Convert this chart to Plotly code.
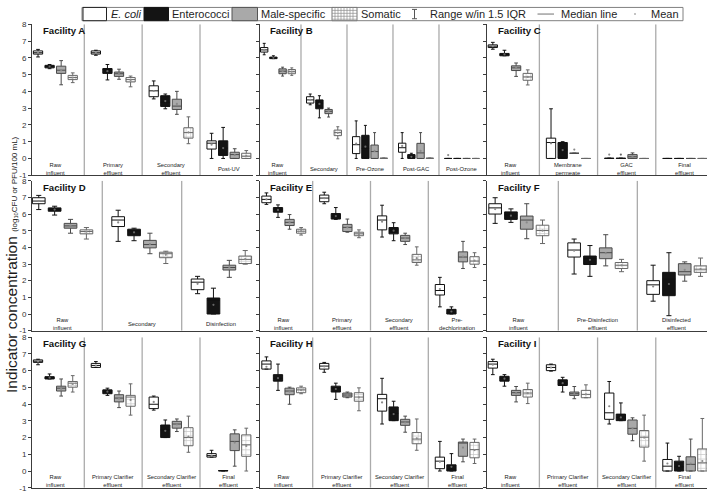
import plotly.graph_objects as go

W, H = 709, 496
FONT = "Liberation Sans, Arial, sans-serif"

# ---------------- data: each box = [lower whisker, Q1, median, Q3, upper whisker, mean] ----------------
A_stages = ["Raw<br>influent", "Primary<br>effluent", "Secondary<br>effluent", "Post-UV"]
A_ecoli = [[6.05, 6.22, 6.30, 6.41, 6.50, 6.31], [6.15, 6.22, 6.30, 6.41, 6.45, 6.30], [3.55, 3.68, 4.03, 4.33, 4.62, 4.02], [0.0, 0.56, 0.91, 1.05, 1.50, 0.82]]
A_entero = [[5.35, 5.40, 5.48, 5.55, 5.60, 5.48], [4.68, 5.07, 5.32, 5.36, 5.60, 5.20], [2.96, 3.10, 3.35, 3.74, 3.84, 3.42], [0.0, 0.18, 0.62, 1.05, 1.85, 0.62]]
A_male = [[4.39, 5.07, 5.26, 5.50, 5.83, 5.25], [4.72, 4.89, 5.05, 5.15, 5.32, 5.03], [2.63, 2.92, 3.12, 3.53, 4.00, 3.25], [0.0, 0.0, 0.23, 0.37, 0.58, 0.20]]
A_somatic = [[4.52, 4.70, 4.82, 4.95, 5.10, 4.82], [4.27, 4.56, 4.70, 4.82, 4.91, 4.68], [0.88, 1.21, 1.54, 1.83, 2.48, 1.55], [0.0, 0.0, 0.13, 0.31, 0.47, 0.15]]

B_stages = ["Raw<br>influent", "Secondary", "Pre-Ozone", "Post-GAC", "Post-Ozone"]
B_ecoli = [[6.18, 6.34, 6.47, 6.61, 6.86, 6.47], [3.20, 3.30, 3.49, 3.68, 3.84, 3.50], [0.0, 0.29, 0.82, 1.30, 2.24, 0.88], [0.0, 0.37, 0.64, 0.91, 1.54, 0.75], [0.0, 0.0, 0.0, 0.0, 0.0, 0.20]]
B_entero = [[5.95, 5.95, 6.00, 6.04, 6.12, 6.00], [2.42, 2.96, 3.30, 3.49, 3.74, 3.25], [0.0, 0.0, 0.60, 1.38, 1.97, 0.70], [0.0, 0.0, 0.08, 0.23, 0.31, 0.10], [0.0, 0.0, 0.0, 0.0, 0.0, None]]
B_male = [[4.91, 5.05, 5.20, 5.34, 5.44, 5.20], [2.47, 2.67, 2.81, 2.92, 3.00, 2.80], [0.0, 0.0, 0.41, 0.80, 1.54, 0.45], [0.0, 0.0, 0.33, 0.90, 1.54, 0.45], [0.0, 0.0, 0.0, 0.0, 0.0, None]]
B_somatic = [[4.95, 5.05, 5.19, 5.30, 5.40, 5.18], [1.17, 1.36, 1.54, 1.69, 1.89, 1.53], [0.0, 0.0, 0.0, 0.03, 0.03, None], [0.0, 0.0, 0.0, 0.03, 0.03, None], [0.0, 0.0, 0.0, 0.0, 0.0, None]]

C_stages = ["Raw<br>influent", "Membrane<br>permeate", "GAC<br>effluent", "Final<br>effluent"]
C_ecoli = [[6.51, 6.61, 6.69, 6.77, 6.92, 6.70], [0.0, 0.0, 0.95, 1.21, 2.96, 0.90], [0.0, 0.0, 0.0, 0.02, 0.02, 0.23], [0.0, 0.0, 0.0, 0.0, 0.0, None]]
C_entero = [[6.12, 6.12, 6.20, 6.26, 6.45, 6.20], [0.0, 0.0, 0.50, 0.95, 1.00, 0.50], [0.0, 0.0, 0.0, 0.02, 0.02, 0.23], [0.0, 0.0, 0.0, 0.0, 0.0, None]]
C_male = [[4.89, 5.24, 5.40, 5.52, 5.69, 5.40], [0.31, 0.31, 0.31, 0.31, 0.31, 0.53], [0.0, 0.0, 0.10, 0.23, 0.33, 0.12], [0.0, 0.0, 0.0, 0.0, 0.0, None]]
C_somatic = [[4.38, 4.66, 4.86, 5.07, 5.28, 4.86], [0.0, 0.0, 0.0, 0.0, 0.0, None], [0.0, 0.0, 0.0, 0.0, 0.0, None], [0.0, 0.0, 0.0, 0.0, 0.0, None]]

D_stages = ["Raw<br>influent", "Secondary", "Disinfection"]
D_ecoli = [[6.27, 6.62, 6.78, 6.98, 7.12, 6.78], [4.36, 5.25, 5.64, 5.84, 6.23, 5.50], [1.22, 1.46, 1.91, 2.10, 2.26, 1.81]]
D_entero = [[5.94, 6.17, 6.27, 6.37, 6.47, 6.27], [4.40, 4.70, 4.99, 5.09, 5.15, 4.90], [0.0, 0.0, 0.83, 0.96, 1.55, 0.55]]
D_male = [[4.85, 5.15, 5.29, 5.44, 5.68, 5.30], [3.62, 3.97, 4.17, 4.42, 4.85, 4.20], [2.20, 2.64, 2.79, 2.93, 3.22, 2.80]]
D_somatic = [[4.50, 4.81, 4.95, 5.05, 5.19, 4.94], [3.03, 3.38, 3.62, 3.71, 3.77, 3.55], [2.99, 3.03, 3.28, 3.48, 3.81, 3.30]]

E_stages = ["Raw<br>influent", "Primary<br>effluent", "Secondary<br>effluent", "Pre-<br>dechlorination"]
E_ecoli = [[6.58, 6.68, 6.88, 7.08, 7.27, 6.88], [6.62, 6.74, 6.96, 7.14, 7.31, 6.95], [4.62, 5.05, 5.64, 5.89, 6.53, 5.54], [0.43, 1.14, 1.41, 1.77, 2.20, 1.50]]
E_entero = [[5.80, 6.11, 6.27, 6.39, 6.55, 6.25], [5.68, 5.70, 5.87, 6.03, 6.39, 5.88], [4.40, 4.81, 5.05, 5.19, 5.48, 5.00], [0.0, 0.0, 0.05, 0.28, 0.43, 0.15]]
E_male = [[5.09, 5.31, 5.50, 5.68, 5.97, 5.50], [4.91, 4.95, 5.20, 5.38, 5.70, 5.20], [4.17, 4.36, 4.56, 4.72, 4.85, 4.55], [2.73, 3.13, 3.42, 3.73, 4.36, 3.45]]
E_somatic = [[4.74, 4.85, 4.97, 5.09, 5.19, 4.97], [4.58, 4.70, 4.81, 4.91, 5.05, 4.80], [2.93, 3.09, 3.25, 3.58, 4.03, 3.35], [2.79, 2.99, 3.18, 3.44, 3.68, 3.20]]

F_stages = ["Raw<br>influent", "Pre-Disinfection<br>effluent", "Disinfected<br>effluent"]
F_ecoli = [[5.44, 6.00, 6.37, 6.62, 6.98, 6.30], [2.40, 3.42, 3.84, 4.27, 4.50, 3.80], [0.77, 1.18, 1.75, 2.00, 2.93, 1.65]]
F_entero = [[5.50, 5.68, 5.94, 6.13, 6.31, 5.90], [2.26, 2.97, 3.32, 3.48, 4.11, 3.25], [-0.10, 1.10, 2.10, 2.50, 3.68, 1.80]]
F_male = [[4.52, 5.09, 5.64, 5.88, 6.62, 5.50], [2.89, 3.32, 3.68, 3.97, 4.76, 3.65], [1.97, 2.34, 2.54, 3.02, 3.13, 2.65]]
F_somatic = [[4.23, 4.70, 5.01, 5.33, 5.64, 5.00], [2.54, 2.73, 2.93, 3.09, 3.28, 2.92], [2.26, 2.50, 2.69, 2.89, 3.36, 2.70]]

G_stages = ["Raw<br>influent", "Primary Clarifier<br>effluent", "Secondary Clarifier<br>effluent", "Final<br>effluent"]
G_ecoli = [[6.35, 6.49, 6.56, 6.64, 6.68, 6.55], [6.19, 6.19, 6.31, 6.43, 6.54, 6.30], [3.64, 3.73, 3.99, 4.42, 4.48, 4.13], [0.83, 0.83, 0.92, 1.04, 1.24, 0.92]]
G_entero = [[5.50, 5.50, 5.58, 5.64, 5.80, 5.58], [4.52, 4.62, 4.74, 4.85, 4.95, 4.74], [2.00, 2.00, 2.46, 2.75, 3.05, 2.40], [0.0, 0.0, 0.02, 0.03, 0.03, None]]
G_male = [[4.48, 4.78, 4.95, 5.07, 5.50, 4.92], [3.79, 4.13, 4.36, 4.56, 4.78, 4.33], [2.36, 2.56, 2.81, 2.97, 3.11, 2.78], [0.29, 1.22, 1.77, 2.22, 2.46, 1.70]]
G_somatic = [[4.72, 5.01, 5.25, 5.35, 5.70, 5.20], [3.34, 3.87, 4.42, 4.52, 5.21, 4.25], [1.12, 1.51, 2.00, 2.59, 3.28, 2.05], [0.0, 0.88, 1.57, 2.16, 2.56, 1.50]]

H_stages = ["Raw<br>influent", "Primary Clarifier<br>effluent", "Secondary Clarifier<br>effluent", "Final<br>effluent"]
H_ecoli = [[6.09, 6.09, 6.39, 6.58, 6.82, 6.23], [5.90, 6.09, 6.27, 6.43, 6.49, 6.25], [2.81, 3.58, 4.32, 4.58, 5.54, 4.10], [0.0, 0.14, 0.59, 0.83, 1.77, 0.55]]
H_entero = [[4.82, 5.37, 5.54, 5.76, 6.39, 5.55], [4.28, 4.72, 4.95, 5.07, 5.25, 4.90], [3.01, 3.01, 3.44, 3.83, 4.17, 3.40], [0.0, 0.0, 0.10, 0.37, 1.04, 0.25]]
H_male = [[3.99, 4.56, 4.78, 4.95, 5.01, 4.75], [4.38, 4.42, 4.54, 4.66, 4.72, 4.54], [2.32, 2.73, 2.93, 3.09, 3.28, 2.90], [0.55, 0.88, 1.67, 1.73, 1.91, 1.40]]
H_somatic = [[4.62, 4.68, 4.85, 4.97, 5.07, 4.83], [3.60, 4.17, 4.42, 4.68, 4.97, 4.40], [1.24, 1.63, 1.91, 2.30, 3.11, 1.95], [0.45, 0.79, 1.28, 1.71, 1.91, 1.25]]

I_stages = ["Raw<br>influent", "Primary Clarifier<br>effluent", "Secondary Clarifier<br>effluent", "Final<br>effluent"]
I_ecoli = [[5.76, 6.15, 6.39, 6.54, 6.68, 6.35], [5.97, 6.00, 6.19, 6.35, 6.39, 6.18], [2.81, 3.09, 3.48, 4.66, 5.35, 3.87], [0.0, 0.0, 0.29, 0.69, 1.67, 0.45]]
I_entero = [[5.07, 5.37, 5.54, 5.66, 5.76, 5.52], [4.72, 5.11, 5.25, 5.45, 5.60, 5.25], [3.01, 3.01, 3.21, 3.40, 4.07, 3.20], [0.0, 0.0, 0.25, 0.59, 0.88, 0.30]]
I_male = [[4.13, 4.52, 4.68, 4.82, 5.05, 4.66], [4.32, 4.52, 4.62, 4.72, 5.05, 4.60], [1.81, 2.20, 2.55, 3.05, 3.18, 2.55], [0.0, 0.0, 0.40, 0.85, 1.91, 0.45]]
I_somatic = [[4.03, 4.42, 4.66, 4.87, 5.25, 4.65], [4.38, 4.38, 4.58, 4.82, 5.15, 4.58], [0.59, 1.43, 2.02, 2.42, 3.34, 2.00], [0.0, 0.0, 0.49, 1.32, 3.14, 0.60]]

facility_names = ["A", "B", "C", "D", "E", "F", "G", "H", "I"]
indicator_names = ["E. coli", "Enterococci", "Male-specific", "Somatic"]
y_ticks = [-1, 0, 1, 2, 3, 4, 5, 6, 7, 8]

facilities = [
    (A_stages, A_ecoli, A_entero, A_male, A_somatic),
    (B_stages, B_ecoli, B_entero, B_male, B_somatic),
    (C_stages, C_ecoli, C_entero, C_male, C_somatic),
    (D_stages, D_ecoli, D_entero, D_male, D_somatic),
    (E_stages, E_ecoli, E_entero, E_male, E_somatic),
    (F_stages, F_ecoli, F_entero, F_male, F_somatic),
    (G_stages, G_ecoli, G_entero, G_male, G_somatic),
    (H_stages, H_ecoli, H_entero, H_male, H_somatic),
    (I_stages, I_ecoli, I_entero, I_male, I_somatic),
]

# ---------------- layout geometry ----------------
col_px = [(32, 253), (259.5, 483), (487, 707)]
row_px = [(20.6, 174.4), (180.0, 332.7), (339.3, 492.7)]
x_ranges = [[-0.404, 3.416], [-0.402, 4.457], [-0.400, 3.380],
            [-0.385, 2.398], [-0.420, 3.446], [-0.403, 2.382],
            [-0.404, 3.416], [-0.420, 3.446], [-0.400, 3.380]]
offsets = [-0.3, -0.1, 0.1, 0.3]
BOXW = 0.16
styles = [
    dict(fill="white", line="#111111"),
    dict(fill="#141414", line="#111111"),
    dict(fill="#a9a9a9", line="#4a4a4a"),
    dict(fill="rgba(0,0,0,0)", line="#686868"),
]
GRID_C = "#8c8c8c"

fig = go.Figure()
shapes = []
annotations = []
layout_axes = {}

for i, (stages, *series) in enumerate(facilities):
    r, c = divmod(i, 3)
    sfx = "" if i == 0 else str(i + 1)
    xa, ya = "x" + sfx, "y" + sfx
    n = len(stages)
    for j, stats in enumerate(series):
        xs = [k + offsets[j] for k in range(n)]
        lw = [s[0] for s in stats]
        q1 = [s[1] for s in stats]
        md = [s[2] for s in stats]
        q3 = [s[3] for s in stats]
        uw = [s[4] for s in stats]
        mn = [s[5] for s in stats]
        st = styles[j]
        if j == 3:
            fig.add_trace(go.Bar(
                x=xs, y=[b - a for a, b in zip(q1, q3)], base=q1, width=BOXW,
                marker=dict(color="white", line=dict(width=0),
                            pattern=dict(shape="+", size=4.6, solidity=0.28,
                                         fgcolor=GRID_C, bgcolor="white")),
                xaxis=xa, yaxis=ya, showlegend=False, hoverinfo="skip"))
        fig.add_trace(go.Box(
            x=xs, q1=q1, median=md, q3=q3, lowerfence=lw, upperfence=uw,
            orientation="v", width=BOXW, whiskerwidth=0.4, boxpoints=False,
            fillcolor=st["fill"], line=dict(color=st["line"], width=1),
            name=indicator_names[j], xaxis=xa, yaxis=ya, showlegend=False,
            hoverinfo="skip"))
        fig.add_trace(go.Scatter(
            x=xs, y=mn, mode="markers",
            marker=dict(size=2.2, color="#8a8a8a" if j != 1 else "#666666"),
            xaxis=xa, yaxis=ya, showlegend=False, hoverinfo="skip"))

    x0, x1 = col_px[c]
    y0, y1 = row_px[r]
    layout_axes["xaxis" + sfx] = dict(
        domain=[x0 / W, x1 / W], range=x_ranges[i], anchor=ya,
        showticklabels=False, ticks="", showgrid=False, zeroline=False,
        showline=True, linecolor="#3c3c3c", linewidth=1, fixedrange=True)
    layout_axes["yaxis" + sfx] = dict(
        domain=[1 - y1 / H, 1 - y0 / H], range=[-1, 8], anchor=xa,
        tickmode="array", tickvals=y_ticks, ticktext=[str(t) for t in y_ticks],
        ticks="outside", ticklen=3, tickwidth=1, tickcolor="#3c3c3c",
        showticklabels=(c == 0), tickfont=dict(size=8, color="#333333", family=FONT),
        showline=True, linecolor="#3c3c3c", linewidth=1,
        showgrid=False, zeroline=False, fixedrange=True)

    # section separators
    for k in range(n - 1):
        shapes.append(dict(type="line", xref=xa, yref=ya, x0=k + 0.5, x1=k + 0.5,
                           y0=-1, y1=8, line=dict(color="#ababab", width=1.3),
                           layer="below"))
    # section labels
    for k, lab in enumerate(stages):
        annotations.append(dict(xref=xa, yref=ya, x=k, y=-0.6, text=lab,
                                showarrow=False, xanchor="center", yanchor="middle",
                                font=dict(size=5.8, color="#222222", family=FONT)))
    # facility title
    annotations.append(dict(xref=xa + " domain", yref=ya, x=0.04, y=7.62,
                            text="<b>Facility " + facility_names[i] + "</b>",
                            showarrow=False, xanchor="left", yanchor="middle",
                            font=dict(size=9.6, color="#111111", family=FONT)))

# ---------------- y-axis title ----------------
annotations.append(dict(
    xref="paper", yref="paper", x=0.3 / W, y=1 - 265 / H,
    text='Indicator concentration <span style="font-size:8px">(log<sub>10</sub>CFU or PFU/100 mL)</span>',
    textangle=-90, showarrow=False, xanchor="left", yanchor="middle",
    font=dict(size=15.5, color="#1a1a1a", family=FONT)))

# ---------------- custom legend ----------------
def px(x):
    return x / W


def py(y):
    return 1 - y / H


LT, LB = 3.5, 17.0
LY = (LT + LB) / 2
shapes.append(dict(type="rect", xref="paper", yref="paper", x0=px(82), x1=px(683),
                   y0=py(LB), y1=py(LT), line=dict(color="#808080", width=1),
                   fillcolor="white", layer="above"))
swatches = [(83, 106.5, "white", "#222222"), (144, 168.5, "#141414", "#141414"),
            (232, 257.5, "#a9a9a9", "#555555"), (332, 357, "white", "#777777")]
for (a, b, fc, lc) in swatches:
    shapes.append(dict(type="rect", xref="paper", yref="paper", x0=px(a), x1=px(b),
                       y0=py(LB), y1=py(LT), fillcolor=fc, line=dict(color=lc, width=1),
                       layer="above"))
# grid in somatic swatch
gx = 332 + 3
while gx < 357 - 1:
    shapes.append(dict(type="line", xref="paper", yref="paper", x0=px(gx), x1=px(gx),
                       y0=py(LB), y1=py(LT), line=dict(color=GRID_C, width=0.7), layer="above"))
    gx += 3
gy = LT + 3
while gy < LB - 1:
    shapes.append(dict(type="line", xref="paper", yref="paper", x0=px(332), x1=px(357),
                       y0=py(gy), y1=py(gy), line=dict(color=GRID_C, width=0.7), layer="above"))
    gy += 3
# whisker symbol
wx = 414.5
shapes.append(dict(type="line", xref="paper", yref="paper", x0=px(wx), x1=px(wx),
                   y0=py(LB - 2), y1=py(LT + 2), line=dict(color="#555555", width=1), layer="above"))
for yy in (LT + 2, LB - 2):
    shapes.append(dict(type="line", xref="paper", yref="paper", x0=px(wx - 2.5), x1=px(wx + 2.5),
                       y0=py(yy), y1=py(yy), line=dict(color="#555555", width=1), layer="above"))
# median line symbol
shapes.append(dict(type="line", xref="paper", yref="paper", x0=px(537.5), x1=px(554),
                   y0=py(LY), y1=py(LY), line=dict(color="#a0a0a0", width=1.5), layer="above"))
# mean dot
shapes.append(dict(type="circle", xref="paper", yref="paper", x0=px(634), x1=px(636),
                   y0=py(LY + 1), y1=py(LY - 1), fillcolor="#b0b0b0",
                   line=dict(color="#b0b0b0", width=0), layer="above"))

legend_texts = [(109, "<i>E. coli</i>"), (170, "Enterococci"), (259, "Male-specific"),
                (358.5, "Somatic"), (428, "Range w/in 1.5 IQR"), (558.5, "Median line"),
                (649, "Mean")]
for x, t in legend_texts:
    annotations.append(dict(xref="paper", yref="paper", x=px(x), y=py(LY + 0.3), text=t,
                            showarrow=False, xanchor="left", yanchor="middle",
                            font=dict(size=11, color="#1e1e1e", family=FONT)))

fig.update_layout(
    width=W, height=H, margin=dict(l=0, r=0, t=0, b=0),
    paper_bgcolor="white", plot_bgcolor="white",
    font=dict(family=FONT, color="#222222"),
    showlegend=False, barmode="overlay", boxmode="overlay",
    shapes=shapes, annotations=annotations, **layout_axes)

fig.write_html(
    "out.html",
    config={"displayModeBar": False, "staticPlot": True},
    post_script="document.body.style.margin='0';document.body.style.padding='0';",
)
